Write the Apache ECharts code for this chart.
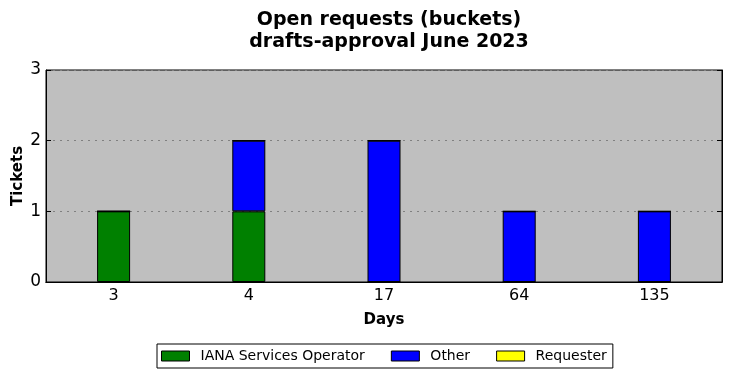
<!DOCTYPE html>
<html>
<head>
<meta charset="utf-8">
<script src="https://cdn.jsdelivr.net/npm/echarts@6/dist/echarts.min.js"></script>
<style>
  html, body { margin: 0; padding: 0; background: #fff; }
  #chart { width: 731px; height: 378px; }
</style>
</head>
<body>
<div id="chart"></div>
<script>
const days = ["3", "4", "17", "64", "135"];
const ianaOperator = [1, 1, 0, 0, 0];
const other = [0, 1, 2, 1, 1];
const requester = [0, 0, 0, 0, 0];
const yTicks = [0, 1, 2, 3];

const font = "DejaVu Sans";
const chart = echarts.init(document.getElementById("chart"));

// 每个系列用同样的柱样式
const barSeries = (name, color, data) => ({
  name: name,
  type: "bar",
  stack: "total",
  barWidth: 33,
  data: data,
  itemStyle: { color: color, borderColor: "#000", borderWidth: 1 },
  emphasis: { disabled: true },
});

chart.setOption({
  backgroundColor: "#fff",
  animation: false,
  textStyle: { fontFamily: font },
  title: {
    text: "Open requests (buckets)\ndrafts-approval June 2023",
    left: 384,
    top: 4,
    textAlign: "center",
    textStyle: { fontFamily: font, fontSize: 19, fontWeight: "bold", color: "#000", lineHeight: 22 },
  },
  grid: {
    left: 46,
    right: 9,
    top: 70,
    bottom: 96,
    outerBoundsMode: "none",
    containLabel: false,
    show: true,
    backgroundColor: "#bfbfbf",
    borderColor: "#000",
    borderWidth: 1,
  },
  legend: {
    bottom: 10,
    left: 157,
    padding: [5, 6, 5, 4],
    borderColor: "#000",
    borderWidth: 1,
    borderRadius: 0,
    icon: "rect",
    itemWidth: 28,
    itemHeight: 10,
    itemGap: 26,
    itemStyle: { borderColor: "#000", borderWidth: 1 },
    textStyle: { fontFamily: font, fontSize: 14, color: "#000", padding: [0, 0, 0, 6] },
    data: ["IANA Services Operator", "Other", "Requester"],
  },
  xAxis: [
    {
      type: "category",
      data: days,
      name: "Days",
      nameLocation: "middle",
      nameGap: 31,
      nameTextStyle: { fontFamily: font, fontSize: 15, fontWeight: "bold", color: "#000" },
      axisLine: { lineStyle: { color: "#000" } },
      axisTick: { inside: true, alignWithLabel: true, length: 5, lineStyle: { color: "#000" } },
      axisLabel: { fontFamily: font, fontSize: 16, color: "#000", margin: 6 },
    },
    {
      type: "category",
      data: days,
      position: "top",
      axisLine: { lineStyle: { color: "#000" } },
      axisTick: { inside: true, alignWithLabel: true, length: 5, lineStyle: { color: "#000" } },
      axisLabel: { show: false },
    },
  ],
  yAxis: [
    {
      type: "value",
      min: yTicks[0],
      max: yTicks[yTicks.length - 1],
      interval: 1,
      name: "Tickets",
      nameLocation: "middle",
      nameGap: 20,
      nameMoveOverlap: false,
      nameTextStyle: { fontFamily: font, fontSize: 15, fontWeight: "bold", color: "#000" },
      axisLine: { show: true, lineStyle: { color: "#000" } },
      axisTick: { show: true, inside: true, length: 5, lineStyle: { color: "#000" } },
      axisLabel: { fontFamily: font, fontSize: 17, color: "#000", margin: 5 },
      splitLine: { show: true, lineStyle: { color: "#808080", type: [2, 5], width: 1 } },
    },
    {
      type: "value",
      min: yTicks[0],
      max: yTicks[yTicks.length - 1],
      interval: 1,
      position: "right",
      axisLine: { show: true, lineStyle: { color: "#000" } },
      axisTick: { show: true, inside: true, length: 5, lineStyle: { color: "#000" } },
      axisLabel: { show: false },
      splitLine: { show: false },
    },
  ],
  series: [
    barSeries("IANA Services Operator", "#008000", ianaOperator),
    barSeries("Other", "#0000ff", other),
    barSeries("Requester", "#ffff00", requester),
  ],
});
</script>
</body>
</html>
